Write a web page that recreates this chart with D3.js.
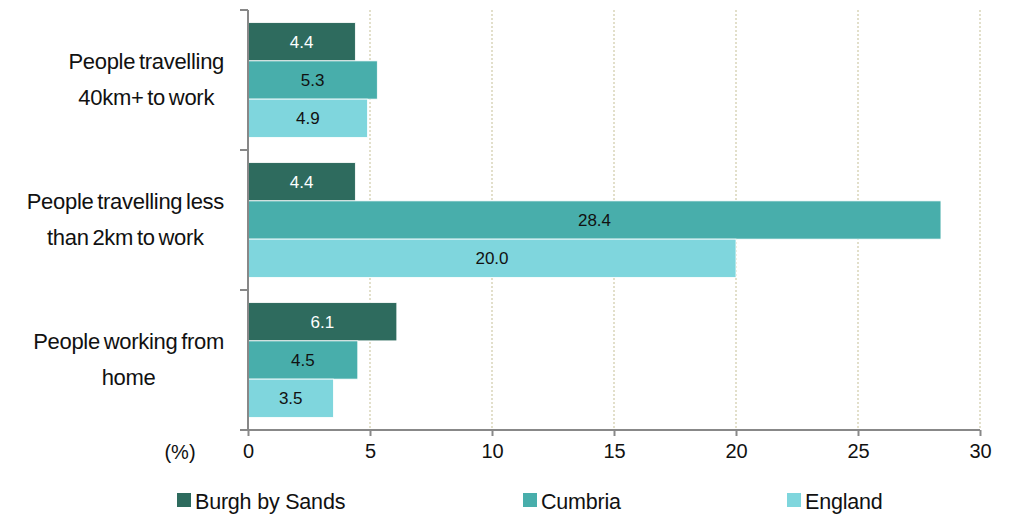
<!DOCTYPE html>
<html>
<head>
<meta charset="utf-8">
<script src="https://cdn.jsdelivr.net/npm/d3@7"></script>
<style>
  body { margin: 0; background: #fff; }
  svg text { font-family: "Liberation Sans", Arial, sans-serif; }
</style>
</head>
<body>
<script>
"use strict";
const categories = ["People travelling 40km+ to work", "People travelling less than 2km to work", "People working from home"];
const categoryLines = [["People travelling", "40km+ to work"], ["People travelling less", "than 2km to work"], ["People working from", "home"]];
const seriesNames = ["Burgh by Sands", "Cumbria", "England"];
const burgh = [4.4, 4.4, 6.1];
const cumbria = [5.3, 28.4, 4.5];
const england = [4.9, 20.0, 3.5];
const xTicks = [0, 5, 10, 15, 20, 25, 30];

const colors = ["#2e6b5e", "#48aeab", "#7fd6dd"];
const labelColors = ["#ffffff", "#111111", "#111111"];

const m = { left: 248, right: 35, top: 10, bottom: 84 };
const W = 1015, H = 514;

const svg = d3.select("body").append("svg").attr("width", W).attr("height", H);

const x = d3.scaleLinear().domain([0, 30]).range([m.left, W - m.right]);
const y = d3.scaleBand().domain(categories).range([m.top, H - m.bottom]).paddingInner(0).paddingOuter(0);
const ySub = d3.scaleBand().domain(seriesNames).range([0, y.bandwidth()]).paddingInner(0).paddingOuter(0.33);

// gridlines
svg.append("g").selectAll("line").data(xTicks.filter(d => d > 0)).enter().append("line")
  .attr("x1", d => x(d)).attr("x2", d => x(d))
  .attr("y1", m.top).attr("y2", H - m.bottom)
  .attr("stroke", "#d9d5b9").attr("stroke-width", 1.5).attr("stroke-dasharray", "2,2");

const rows = categories.map((c, i) => ({ cat: c, vals: [burgh[i], cumbria[i], england[i]] }));

const groups = svg.append("g").selectAll("g").data(rows).enter().append("g")
  .attr("transform", d => `translate(0,${y(d.cat)})`);

groups.selectAll("rect").data(d => d.vals.map((v, j) => ({ v, j }))).enter().append("rect")
  .attr("x", x(0))
  .attr("y", d => ySub(seriesNames[d.j]))
  .attr("width", d => x(d.v) - x(0))
  .attr("height", ySub.bandwidth())
  .attr("fill", d => colors[d.j])
  .attr("stroke", "#ffffff").attr("stroke-width", 0.8);

groups.selectAll("text").data(d => d.vals.map((v, j) => ({ v, j }))).enter().append("text")
  .attr("x", d => (x(d.v) + x(0)) / 2)
  .attr("y", d => ySub(seriesNames[d.j]) + ySub.bandwidth() / 2)
  .attr("dy", "0.36em")
  .attr("text-anchor", "middle")
  .style("font-size", "17px")
  .attr("fill", d => labelColors[d.j])
  .text(d => d.v.toFixed(1));

// x axis
const xAxis = d3.axisBottom(x).tickValues(xTicks).tickSize(6).tickSizeOuter(0);
const gx = svg.append("g").attr("transform", `translate(0,${H - m.bottom})`).call(xAxis);
gx.select(".domain").attr("stroke", "#888").attr("stroke-width", 2).attr("d", `M${m.left - 8},0H${W - m.right}`);
gx.selectAll(".tick line").attr("stroke", "#888").attr("stroke-width", 2);
gx.selectAll(".tick text").style("font-size", "20px").attr("fill", "#111").attr("y", 14).attr("dy", "0.71em");

// y axis (category separators)
const gy = svg.append("g").attr("transform", `translate(${m.left},0)`);
gy.append("line").attr("x1", 0).attr("x2", 0).attr("y1", m.top).attr("y2", H - m.bottom)
  .attr("stroke", "#888").attr("stroke-width", 2);
gy.selectAll(".sep").data([m.top].concat(categories.map(c => y(c) + y.bandwidth())))
  .enter().append("line").attr("class", "sep")
  .attr("x1", -8).attr("x2", 0).attr("y1", d => d).attr("y2", d => d)
  .attr("stroke", "#888").attr("stroke-width", 2);

// category labels: lines centred on each other, block ending near the axis
const lab = svg.append("g").selectAll("text").data(categories).enter().append("text")
  .attr("text-anchor", "middle")
  .attr("y", d => y(d) + y.bandwidth() / 2 - 11)
  .style("font-size", "22px")
  .style("letter-spacing", "-0.3px")
  .style("word-spacing", "-2px")
  .attr("fill", "#111");
lab.each(function(d, i) {
  const t = d3.select(this);
  categoryLines[i].forEach((ln, k) => {
    t.append("tspan").attr("dy", k === 0 ? 0 : 36).text(ln);
  });
  let maxW = 0;
  t.selectAll("tspan").each(function() { maxW = Math.max(maxW, this.getComputedTextLength()); });
  t.selectAll("tspan").attr("x", 224 - maxW / 2);
});

svg.append("text").attr("x", 180).attr("y", 459).attr("text-anchor", "middle")
  .style("font-size", "20px").attr("fill", "#111").text("(%)");

// legend
const legX = [177, 523, 787];
const leg = svg.append("g").selectAll("g").data(seriesNames).enter().append("g")
  .attr("transform", (d, i) => `translate(${legX[i]},493)`);
leg.append("rect").attr("width", 14).attr("height", 14).attr("fill", (d, i) => colors[i]);
leg.append("text").attr("x", 18).attr("y", 8).attr("dy", "0.36em")
  .style("font-size", "21.5px").style("letter-spacing", "-0.2px").attr("fill", "#111").text(d => d);
</script>
</body>
</html>
